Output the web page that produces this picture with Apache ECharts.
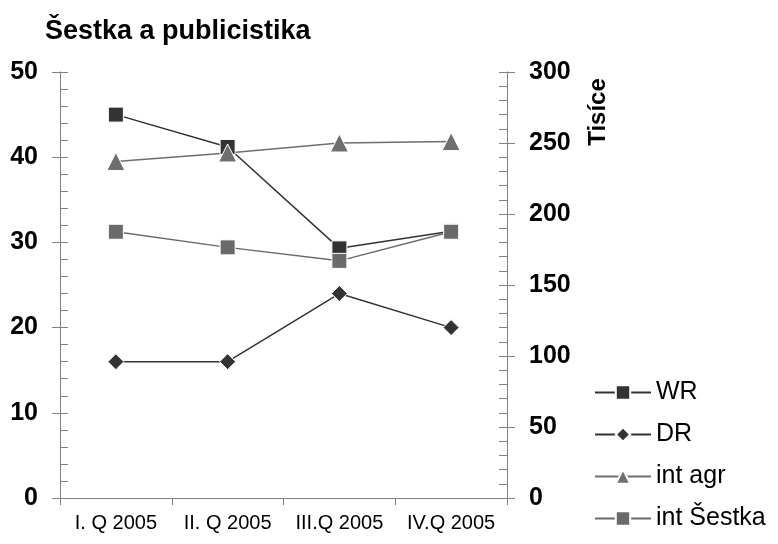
<!DOCTYPE html>
<html>
<head>
<meta charset="utf-8">
<script src="https://cdn.jsdelivr.net/npm/echarts@6/dist/echarts.min.js"></script>
<style>html,body{margin:0;padding:0;background:#fff}#c{width:778px;height:544px}</style>
</head>
<body>
<div id="c"></div>
<script>
var categories = ['I. Q 2005', 'II. Q 2005', 'III.Q 2005', 'IV.Q 2005'];
var wr = [45, 41.2, 29.3, 31.3];
var dr = [16, 16, 24, 20];
var intAgr = [237, 243, 250, 251];
var intSestka = [187.5, 176.5, 167, 187.5];
var leftTicks = [0, 50, 10];
var rightTicks = [0, 300, 50];

var chart = echarts.init(document.getElementById('c'));
var FONT = '"Liberation Sans", Arial, sans-serif';
var axisGray = '#808080';
function yAx(pos, ticks, labels, inside, minor) {
  return {
    type: 'value', position: pos, min: ticks[0], max: ticks[1], interval: ticks[2],
    splitLine: {show: false},
    axisLine: {show: true, lineStyle: {color: axisGray, width: 1}},
    axisTick: {show: true, inside: inside, length: 8, lineStyle: {color: axisGray}},
    minorTick: {show: minor, splitNumber: 5, length: 8, lineStyle: {color: axisGray}},
    axisLabel: {show: labels, color: '#000', fontFamily: FONT, fontWeight: 'bold', fontSize: 25, margin: 22}
  };
}
function ser(name, data, yi, color, symbol, size) {
  return {
    name: name, type: 'line', data: data, yAxisIndex: yi,
    symbol: symbol, symbolSize: size,
    lineStyle: {color: color, width: 1.5},
    itemStyle: {color: color, borderColor: '#fff', borderWidth: 1},
    emphasis: {disabled: true}, animation: false
  };
}
chart.setOption({
  animation: false,
  title: {text: 'Šestka a publicistika', left: 40, top: 13,
    textStyle: {fontFamily: FONT, fontWeight: 'bold', fontSize: 27, color: '#000'}},
  grid: {left: 60, right: 271, top: 72, bottom: 46},
  legend: {
    orient: 'vertical', left: 589, top: 375, itemWidth: 56, itemHeight: 18, itemGap: 17,
    textStyle: {fontFamily: FONT, fontSize: 25, color: '#000'},
    data: ['WR', 'DR', 'int agr', 'int Šestka']
  },
  xAxis: {
    type: 'category', data: categories, boundaryGap: true,
    axisLine: {lineStyle: {color: axisGray}},
    axisTick: {show: true, length: 7, lineStyle: {color: axisGray}},
    axisLabel: {color: '#000', fontFamily: FONT, fontSize: 20, margin: 15, interval: 0, hideOverlap: false}
  },
  yAxis: [
    yAx('left', leftTicks, true, false, false),
    yAx('right', rightTicks, true, false, false),
    yAx('left', leftTicks, false, true, true),
    yAx('right', rightTicks, false, true, true)
  ],
  graphic: [{
    type: 'text', x: 598, y: 112, rotation: Math.PI / 2,
    style: {text: 'Tisíce', fontFamily: FONT, fontWeight: 'bold', fontSize: 24, fill: '#000',
      align: 'center', verticalAlign: 'middle'}
  }],
  series: [
    ser('WR', wr, 0, '#333333', 'rect', 15),
    ser('DR', dr, 0, '#333333', 'diamond', 16),
    ser('int agr', intAgr, 1, '#6e6e6e', 'triangle', 18),
    ser('int Šestka', intSestka, 1, '#6a6a6a', 'rect', 15)
  ]
});
</script>
</body>
</html>
